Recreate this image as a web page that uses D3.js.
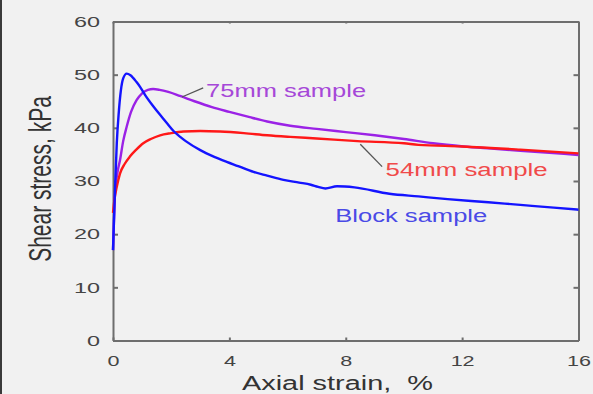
<!DOCTYPE html>
<html>
<head>
<meta charset="utf-8">
<script src="https://cdn.jsdelivr.net/npm/d3@7"></script>
<style>
  html, body { margin: 0; padding: 0; background: #f1f1f1; }
  svg { display: block; }
  text { font-family: "Liberation Sans", Arial, sans-serif; }
</style>
</head>
<body>
<svg id="chart" width="593" height="394"></svg>
<script>
// ---- data ----
const xTicks = [0, 4, 8, 12, 16];
const yTicks = [0, 10, 20, 30, 40, 50, 60];
const xLabel = "Axial strain,  %";
const yLabel = "Shear stress,  kPa";

const blockStrain = [0, 0.03, 0.08, 0.13, 0.2, 0.27, 0.35, 0.47, 0.6, 0.81, 0.93, 1.1, 1.39, 1.7, 1.85, 2.08, 2.31, 2.5, 3.0, 3.5, 3.91, 4.3, 4.83, 5.3, 5.86, 6.4, 6.8, 7.05, 7.3, 7.7, 8.3, 9.5, 10.5, 11.5, 12.9, 14.0, 15.15, 16.0];
const blockStress = [17, 22, 30, 37.1, 43, 47, 49.3, 50.2, 49.9, 48.6, 47.7, 46.2, 44.0, 41.9, 40.9, 39.4, 38.3, 37.5, 35.8, 34.5, 33.6, 32.8, 31.7, 31.0, 30.2, 29.7, 29.3, 28.9, 28.6, 29.0, 28.8, 27.6, 27.1, 26.6, 26.0, 25.5, 25.0, 24.6];

const s75Strain = [0, 0.03, 0.07, 0.15, 0.24, 0.35, 0.47, 0.62, 0.81, 1.0, 1.2, 1.38, 1.6, 1.9, 2.3, 2.8, 3.4, 4.0, 4.7, 5.3, 6.09, 7.0, 8.0, 9.0, 10.0, 11.0, 12.05, 13.0, 14.0, 15.0, 16.0];
const s75Stress = [17, 22, 27.7, 31.5, 33.9, 37.5, 40.2, 43, 45.2, 46.5, 47.15, 47.3, 47.15, 46.75, 46.0, 45.0, 43.9, 43.0, 42.0, 41.2, 40.4, 39.8, 39.2, 38.6, 37.9, 37.1, 36.5, 36.1, 35.7, 35.3, 34.9];

const s54Strain = [0, 0.05, 0.13, 0.24, 0.4, 0.58, 0.8, 1.04, 1.3, 1.62, 2.0, 2.42, 3.0, 3.68, 4.5, 5.3, 6.09, 7.0, 8.4, 10.0, 10.5, 12.0, 14.0, 16.0];
const s54Stress = [24, 26.5, 28.9, 31.4, 33.2, 34.6, 35.9, 37.1, 37.9, 38.6, 39.0, 39.3, 39.4, 39.3, 39.0, 38.6, 38.3, 38.0, 37.5, 37.1, 36.8, 36.5, 35.9, 35.2];

const seriesNames = ["75mm sample", "54mm sample", "Block sample"];
const lineColors = ["#9b22e6", "#ff1818", "#1414ff"];
const textColors = ["#a648d8", "#f04a4a", "#4a4ae6"];

// ---- chart ----
const svg = d3.select("#chart");
svg.append("rect").attr("x", 0).attr("y", 0).attr("width", 593).attr("height", 394).attr("fill", "#f1f1f1");
svg.append("rect").attr("x", 0).attr("y", 0).attr("width", 2).attr("height", 394).attr("fill", "#3a3a3a");

const x = d3.scaleLinear().domain([0, 16]).range([113, 578.5]);
const y = d3.scaleLinear().domain([0, 60]).range([340.5, 21.5]);

const axisColor = "#6e6e6e";
const labelColor = "#444";

function styleAxis(g) {
  g.select(".domain").attr("stroke", axisColor).attr("stroke-width", 2);
  g.selectAll(".tick line").attr("stroke", axisColor).attr("stroke-width", 2);
  g.selectAll("text").attr("fill", labelColor).attr("font-size", 15)
    .attr("font-family", "'Liberation Sans', Arial, sans-serif");
}

// left
const gl = svg.append("g").attr("transform", `translate(${x(0)},0)`)
  .call(d3.axisLeft(y).tickValues(yTicks).tickSizeInner(-5).tickSizeOuter(0).tickPadding(13));
styleAxis(gl);
gl.selectAll("text").each(function () {
  const t = d3.select(this);
  t.attr("textLength", t.text().length * 13).attr("lengthAdjust", "spacingAndGlyphs");
});
// bottom
const gb = svg.append("g").attr("transform", `translate(0,${y(0)})`)
  .call(d3.axisBottom(x).tickValues(xTicks).tickSizeInner(-3).tickSizeOuter(0).tickPadding(15));
styleAxis(gb);
gb.selectAll("text").each(function () {
  const t = d3.select(this);
  t.attr("textLength", t.text().length * 12).attr("lengthAdjust", "spacingAndGlyphs");
});
// top
const gt = svg.append("g").attr("transform", `translate(0,${y(60)})`)
  .call(d3.axisTop(x).tickValues(xTicks).tickSizeInner(-2).tickSizeOuter(0).tickFormat(""));
styleAxis(gt);
// right
const gr = svg.append("g").attr("transform", `translate(${x(16)},0)`)
  .call(d3.axisRight(y).tickValues(yTicks).tickSizeInner(-5).tickSizeOuter(0).tickFormat(""));
styleAxis(gr);

// lines
const line = d3.line().x(d => x(d[0])).y(d => y(d[1])).curve(d3.curveMonotoneX);
const series = [
  d3.zip(s75Strain, s75Stress),
  d3.zip(s54Strain, s54Stress),
  d3.zip(blockStrain, blockStress)
];
series.forEach((s, i) => {
  svg.append("path").datum(s).attr("d", line)
    .attr("fill", "none").attr("stroke", lineColors[i]).attr("stroke-width", 2.4)
    .attr("stroke-linejoin", "round");
});

// annotations
const leaders = [
  [[2.37, 45.8], [3.1, 47.5]],
  [[8.5, 36.9], [9.25, 32.7]]
];
leaders.forEach(l => {
  svg.append("line")
    .attr("x1", x(l[0][0])).attr("y1", y(l[0][1]))
    .attr("x2", x(l[1][0])).attr("y2", y(l[1][1]))
    .attr("stroke", "#555").attr("stroke-width", 1.3);
});
const annot = [
  { pos: [3.2, 45.8], len: 160 },
  { pos: [9.37, 30.9], len: 162 },
  { pos: [7.64, 22.3], len: 152 }
];
annot.forEach((a, i) => {
  svg.append("text").attr("x", x(a.pos[0])).attr("y", y(a.pos[1]))
    .attr("font-size", 18).attr("fill", textColors[i])
    .attr("textLength", a.len).attr("lengthAdjust", "spacingAndGlyphs")
    .text(seriesNames[i]);
});

// axis titles
svg.append("text").attr("x", 242).attr("y", 390)
  .attr("font-size", 20).attr("fill", "#333")
  .style("white-space", "pre")
  .attr("textLength", 191).attr("lengthAdjust", "spacingAndGlyphs")
  .text(xLabel);
svg.append("text")
  .attr("transform", "translate(51,179) scale(1.5,1) rotate(-90)")
  .attr("text-anchor", "middle").attr("font-size", 21).attr("fill", "#333")
  .text(yLabel);
</script>
</body>
</html>
